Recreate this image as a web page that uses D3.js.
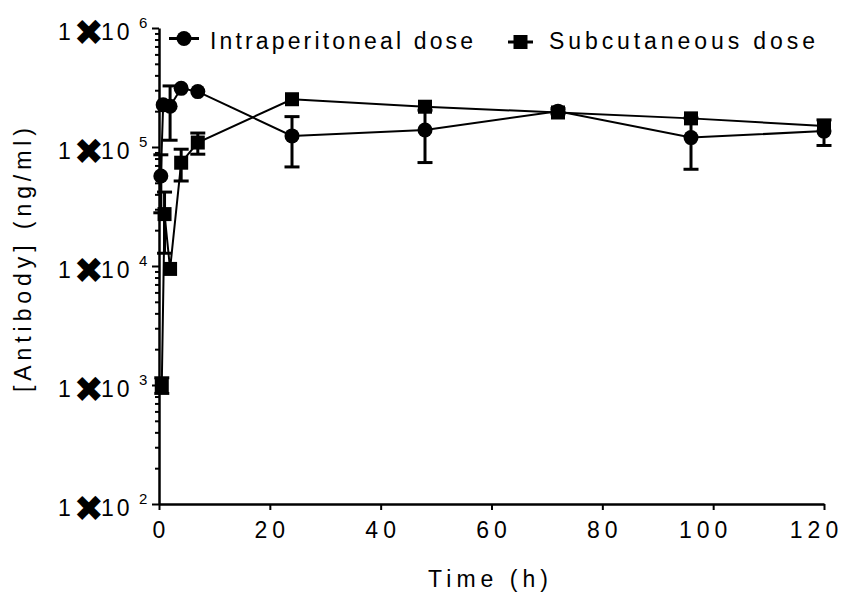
<!DOCTYPE html>
<html lang="en">
<meta charset="UTF-8">
<script src="https://cdn.jsdelivr.net/npm/d3@7"></script>
<style>
  body { margin: 0; background: #fff; }
  svg text { font-family: "Liberation Sans Narrow", "Liberation Sans", Arial, sans-serif; fill: #000; }
</style>
<body>
<div id="chart"></div>
<script>
const width = 847, height = 592;

// sampling times (h)
const ipTimes = [0.33, 0.75, 2, 4, 7, 24, 48, 72, 96, 120];
const scTimes = [0.5, 1, 2, 4, 7, 24, 48, 72, 96, 120];
// mean antibody concentration (ng/ml) and SD
const ipMean = [57000, 226000, 220000, 311000, 292000, 124000, 139000, 200000, 120000, 136000];
const ipSD   = [29000, 0, 106000, 0, 0, 56000, 65000, 10000, 55000, 33000];
const scMean = [1000, 27300, 9450, 73800, 109000, 252000, 218000, 195000, 174000, 150000];
const scSD   = [150, 14500, 0, 22000, 22000, 0, 0, 0, 0, 0];

const xTicks = [0, 20, 40, 60, 80, 100, 120];
const yExponents = [2, 3, 4, 5, 6];
const seriesNames = ["Intraperitoneal dose", "Subcutaneous dose"];

const svg = d3.select("#chart").append("svg")
  .attr("width", width)
  .attr("height", height);

const x = d3.scaleLinear().domain([0, 120]).range([159, 824]);
const y = d3.scaleLog().domain([1e2, 1e6]).range([504, 28]);

// minor ticks 2..9 for each decade
const minor = [];
yExponents.slice(0, -1).forEach(e => {
  for (let m = 2; m <= 9; m++) minor.push(m * Math.pow(10, e));
});

const yMinor = svg.append("g")
  .attr("transform", `translate(${x(0)},0)`)
  .call(d3.axisLeft(y).tickValues(minor).tickSize(4).tickFormat(""));
yMinor.select(".domain").remove();

svg.append("g")
  .attr("transform", `translate(${x(0)},0)`)
  .call(d3.axisLeft(y).tickValues(yExponents.map(e => Math.pow(10, e)))
    .tickSize(7).tickSizeOuter(0).tickFormat(""));

svg.append("g")
  .attr("transform", `translate(0,${y(1e2)})`)
  .call(d3.axisBottom(x).tickValues(xTicks).tickSize(6).tickSizeOuter(0).tickFormat(""));

svg.selectAll(".domain").attr("stroke", "#000").attr("stroke-width", 2.5);
svg.selectAll(".tick line").attr("stroke", "#000").attr("stroke-width", 2);

// y tick labels: 1x10^n with a heavy cross
yExponents.forEach(e => {
  const yy = y(Math.pow(10, e));
  const t = svg.append("text")
    .attr("x", 58).attr("y", yy + 11.5)
    .style("font-size", "23px");
  t.append("tspan").text("1");
  t.append("tspan")
    .attr("dx", 3).attr("dy", 5)
    .style("font-family", "'DejaVu Sans'")
    .style("font-size", "36px")
    .text("\u2716");
  t.append("tspan")
    .attr("x", 101).attr("dy", -5)
    .style("letter-spacing", "3px")
    .text("10");
  svg.append("text")
    .attr("x", 139).attr("y", yy)
    .style("font-size", "15px")
    .text(e);
});

// x tick labels
svg.selectAll(".xlab")
  .data(xTicks)
  .join("text")
  .attr("x", d => x(d) + 2.5 - (String(d).length > 2 ? 10 : 0))
  .attr("y", 538)
  .attr("text-anchor", "middle")
  .style("font-size", "23px")
  .style("letter-spacing", "5px")
  .text(d => d);

svg.append("text")
  .attr("x", 428).attr("y", 587)
  .attr("textLength", 120).attr("lengthAdjust", "spacing")
  .style("font-size", "23px")
  .text("Time (h)");

svg.append("text")
  .attr("transform", "translate(31,392) rotate(-90)")
  .attr("textLength", 264)
  .attr("lengthAdjust", "spacing")
  .style("font-size", "23px")
  .text("[Antibody] (ng/ml)");

const line = d3.line().x(d => x(d.t)).y(d => y(d.m));
const ipData = ipTimes.map((t, i) => ({t, m: ipMean[i], sd: ipSD[i]}));
const scData = scTimes.map((t, i) => ({t, m: scMean[i], sd: scSD[i]}));

function drawSeries(data) {
  svg.append("path")
    .datum(data)
    .attr("d", line)
    .attr("fill", "none")
    .attr("stroke", "#000")
    .attr("stroke-width", 2);

  const bars = data.filter(d => d.sd > 0);
  const g = svg.append("g").attr("stroke", "#000").attr("stroke-width", 3);
  g.selectAll(".bar")
    .data(bars)
    .join("line")
    .attr("x1", d => x(d.t)).attr("x2", d => x(d.t))
    .attr("y1", d => y(d.m + d.sd)).attr("y2", d => y(Math.max(d.m - d.sd, 1e2)));
  g.selectAll(".capTop")
    .data(bars)
    .join("line")
    .attr("x1", d => x(d.t) - 7.5).attr("x2", d => x(d.t) + 7.5)
    .attr("y1", d => y(d.m + d.sd)).attr("y2", d => y(d.m + d.sd));
  g.selectAll(".capBot")
    .data(bars)
    .join("line")
    .attr("x1", d => x(d.t) - 7.5).attr("x2", d => x(d.t) + 7.5)
    .attr("y1", d => y(d.m - d.sd)).attr("y2", d => y(d.m - d.sd));
}

drawSeries(ipData);
drawSeries(scData);

svg.selectAll(".ip")
  .data(ipData)
  .join("circle")
  .attr("cx", d => x(d.t))
  .attr("cy", d => y(d.m))
  .attr("r", 7.5)
  .attr("fill", "#000");

svg.selectAll(".sc")
  .data(scData)
  .join("rect")
  .attr("x", d => x(d.t) - 7)
  .attr("y", d => y(d.m) - 7)
  .attr("width", 14)
  .attr("height", 14)
  .attr("fill", "#000");

// legend
const legend = svg.append("g");
legend.append("line").attr("x1", 169).attr("x2", 199).attr("y1", 38.5).attr("y2", 38.5)
  .attr("stroke", "#000").attr("stroke-width", 3);
legend.append("circle").attr("cx", 184).attr("cy", 38.5).attr("r", 7.5).attr("fill", "#000");
legend.append("text").attr("x", 210).attr("y", 49)
  .attr("textLength", 263).attr("lengthAdjust", "spacing")
  .style("font-size", "23px").text(seriesNames[0]);

legend.append("line").attr("x1", 508).attr("x2", 533).attr("y1", 42).attr("y2", 42)
  .attr("stroke", "#000").attr("stroke-width", 3);
legend.append("rect").attr("x", 513.5).attr("y", 35).attr("width", 14).attr("height", 14).attr("fill", "#000");
legend.append("text").attr("x", 549).attr("y", 48.5)
  .attr("textLength", 266).attr("lengthAdjust", "spacing")
  .style("font-size", "23px").text(seriesNames[1]);
</script>
</body>
</html>
